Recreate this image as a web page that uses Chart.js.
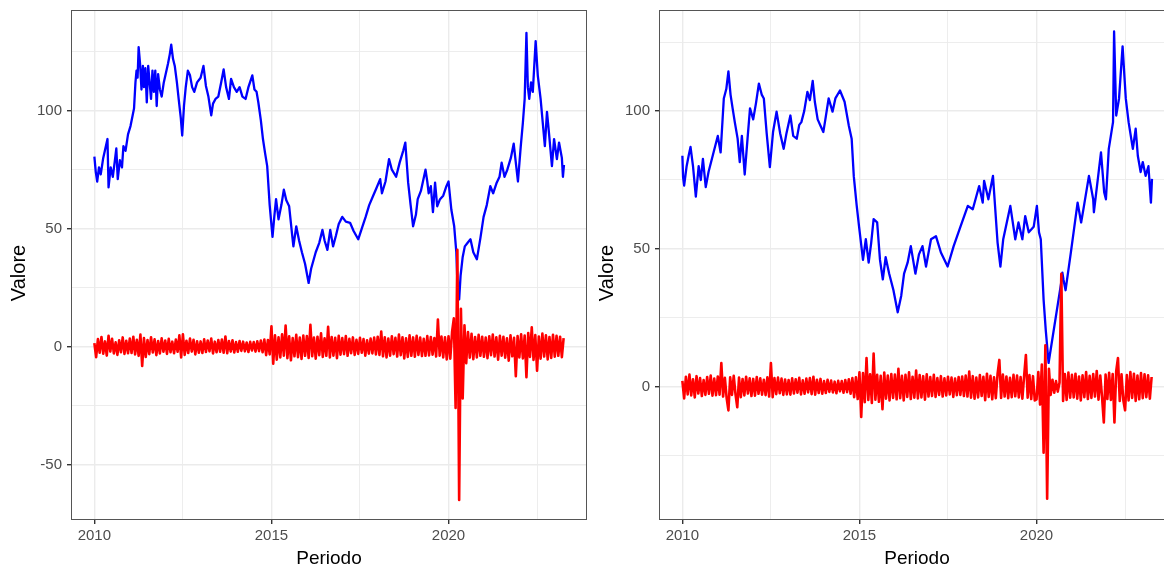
<!DOCTYPE html>
<html>
<head>
<meta charset="utf-8">
<script src="https://cdn.jsdelivr.net/npm/chart.js@4.4.1/dist/chart.umd.min.js"></script>
<style>
  html, body { margin: 0; padding: 0; background: #fff; overflow: hidden; width: 1164px; height: 571px; }
  canvas { position: absolute; top: 0; }
  #left { left: 0; }
  #right { left: 588px; }
</style>
</head>
<body>
<canvas id="left" width="590" height="571"></canvas>
<canvas id="right" width="590" height="571"></canvas>
<script>
// price level (blue) for each panel, as decimal year / value pairs
const priceYearsA = [
  2010.00, 2010.04, 2010.08, 2010.13, 2010.18, 2010.25, 2010.31, 2010.37, 2010.40, 2010.46,
  2010.52, 2010.58, 2010.62, 2010.66, 2010.72, 2010.78, 2010.82, 2010.88, 2010.95, 2011.02,
  2011.08, 2011.12, 2011.16, 2011.19, 2011.22, 2011.25, 2011.29, 2011.33, 2011.37, 2011.40,
  2011.44, 2011.48, 2011.52, 2011.56, 2011.60, 2011.64, 2011.68, 2011.72, 2011.76, 2011.80,
  2011.85, 2011.90, 2011.96, 2012.02, 2012.08, 2012.13, 2012.17, 2012.22, 2012.27, 2012.33,
  2012.38, 2012.44, 2012.48, 2012.53, 2012.58, 2012.64, 2012.70, 2012.76, 2012.82, 2012.90,
  2013.00, 2013.08, 2013.15, 2013.22, 2013.30, 2013.35, 2013.42, 2013.50, 2013.58, 2013.65,
  2013.72, 2013.80, 2013.86, 2013.94, 2014.02, 2014.10, 2014.18, 2014.27, 2014.35, 2014.46,
  2014.52, 2014.58, 2014.63, 2014.70, 2014.76, 2014.82, 2014.88, 2014.95, 2015.03, 2015.08,
  2015.13, 2015.20, 2015.28, 2015.35, 2015.42, 2015.50, 2015.58, 2015.62, 2015.70, 2015.78,
  2015.86, 2015.95, 2016.05, 2016.12, 2016.25, 2016.35, 2016.44, 2016.50, 2016.58, 2016.66,
  2016.74, 2016.82, 2016.90, 2017.00, 2017.10, 2017.22, 2017.32, 2017.45, 2017.55, 2017.66,
  2017.76, 2017.86, 2017.96, 2018.07, 2018.12, 2018.22, 2018.32, 2018.40, 2018.52, 2018.62,
  2018.72, 2018.78, 2018.86, 2018.93, 2019.00, 2019.08, 2019.13, 2019.22, 2019.35, 2019.40,
  2019.44, 2019.50, 2019.56, 2019.62, 2019.68, 2019.76, 2019.85, 2019.94, 2020.00, 2020.08,
  2020.16, 2020.22, 2020.26, 2020.30, 2020.34, 2020.40, 2020.46, 2020.54, 2020.62, 2020.70,
  2020.80, 2020.90, 2020.99, 2021.08, 2021.18, 2021.26, 2021.36, 2021.44, 2021.50, 2021.58,
  2021.66, 2021.76, 2021.84, 2021.90, 2021.96, 2022.04, 2022.10, 2022.15, 2022.20, 2022.24,
  2022.28, 2022.33, 2022.38, 2022.46, 2022.52, 2022.60, 2022.66, 2022.72, 2022.78, 2022.84,
  2022.92, 2022.98, 2023.06, 2023.12, 2023.20, 2023.23, 2023.26
];
const priceValuesA = [
  80.5, 74, 70, 76, 73, 80, 84, 88, 67.5, 76,
  72, 79, 84, 71, 79, 76, 85, 83, 90, 93.5,
  98, 101, 112, 117, 114, 127, 120, 109, 119, 110,
  118, 103.5, 119, 112, 105, 117, 108, 117, 102, 115.5,
  109, 106, 112, 116, 120, 124, 128, 122, 119, 112,
  105, 97, 89.5, 102, 110, 117, 115, 110, 108, 112,
  114, 119, 110.5, 106, 98, 103, 105, 106, 112, 117.5,
  110, 105, 113.5, 110, 108, 110, 106, 105, 110, 115,
  109, 108, 103.5, 96, 88, 82, 76.5, 60, 46.5, 55,
  62.5, 54, 60, 66.5, 62, 59.5, 48, 42.5, 51, 45,
  40, 35, 27, 33, 40, 44, 49.5, 45, 41, 49.5,
  42.5, 47, 52, 55, 53, 52.5, 49, 45.5, 50, 55,
  60, 63.5, 67, 71, 65, 70, 79.5, 75, 72, 78,
  83, 86.5, 69.5, 60, 51, 56, 62.5, 66, 75, 70,
  65, 68, 57, 69.5, 59.5, 62.5, 64, 68, 70, 58,
  51, 40, 23, 20, 30, 38, 42.5, 44, 45.5, 40,
  37, 46, 55, 60, 68, 65, 69.5, 72, 78, 72,
  75, 80, 86, 78, 70, 85, 95, 105, 133, 110,
  105, 112, 108, 129.5, 115, 105, 95, 85, 99.5, 90,
  76.5, 88, 79.5, 86.5, 80, 72, 77
];

const priceYearsB = [
  2010.00, 2010.02, 2010.05, 2010.12, 2010.18, 2010.23, 2010.30, 2010.38, 2010.46, 2010.52,
  2010.58, 2010.66, 2010.74, 2010.86, 2010.94, 2011.00, 2011.04, 2011.08, 2011.17, 2011.24,
  2011.30, 2011.36, 2011.42, 2011.48, 2011.56, 2011.62, 2011.68, 2011.76, 2011.84, 2011.91,
  2012.00, 2012.08, 2012.16, 2012.24, 2012.30, 2012.38, 2012.47, 2012.56, 2012.66, 2012.76,
  2012.86, 2012.94, 2013.05, 2013.13, 2013.23, 2013.30, 2013.36, 2013.44, 2013.53, 2013.60,
  2013.68, 2013.74, 2013.82, 2013.90, 2013.98, 2014.05, 2014.13, 2014.24, 2014.32, 2014.45,
  2014.58, 2014.70, 2014.78, 2014.84, 2014.92, 2014.99, 2015.10, 2015.18, 2015.26, 2015.33,
  2015.40, 2015.50, 2015.58, 2015.66, 2015.74, 2015.84, 2015.96, 2016.08, 2016.18, 2016.26,
  2016.36, 2016.45, 2016.58, 2016.68, 2016.78, 2016.88, 2017.02, 2017.16, 2017.30, 2017.49,
  2017.66, 2017.85, 2018.06, 2018.20, 2018.38, 2018.48, 2018.52, 2018.64, 2018.77, 2018.90,
  2018.98, 2019.06, 2019.26, 2019.40, 2019.49, 2019.60, 2019.68, 2019.78, 2019.92, 2020.01,
  2020.07, 2020.12, 2020.20, 2020.26, 2020.34, 2020.70, 2020.73, 2020.76, 2020.82, 2020.97,
  2021.16, 2021.26, 2021.34, 2021.48, 2021.60, 2021.62, 2021.82, 2021.91, 2021.96, 2022.04,
  2022.16, 2022.19, 2022.25, 2022.33, 2022.43, 2022.52, 2022.60, 2022.72, 2022.80, 2022.86,
  2022.94, 2023.00, 2023.08, 2023.16, 2023.23, 2023.26
];
const priceValuesB = [
  83.8, 76, 73, 80, 84, 87, 80, 69, 80, 75,
  82.7, 72.4, 78, 84, 88, 91, 88, 85, 104.6, 108,
  114.4, 106, 100.9, 96, 90, 81.5, 91, 77, 90, 101,
  97, 103, 110, 106, 104.6, 92, 79.7, 92.4, 99.8, 92,
  86.3, 92, 98.4, 91, 90, 95, 96, 100, 107, 104,
  111, 103.4, 97, 94.7, 92.4, 98, 104.6, 99.8, 104.6, 107.5,
  103.4, 94.7, 90, 76.4, 66, 58, 46, 53.5, 45, 52,
  60.8, 59.6, 46, 38.9, 47, 41, 35, 27, 33, 41,
  45, 51, 41, 48, 51, 43.6, 53.5, 54.6, 48.7, 43.6,
  51, 58, 65.6, 64.4, 72.8, 66.8, 74.7, 68, 76.5, 52.3,
  43.6, 53.5, 65.6, 53.5, 59.6, 53.5, 61.9, 56, 58, 65.6,
  56, 53.5, 31.5, 20.6, 8.6, 38, 41.4, 38.9, 35, 48.7,
  66.8, 59.6, 65.6, 76.5, 68, 63.3, 85, 70.6, 68, 86.3,
  96, 128.9, 98.4, 104.6, 123.5, 104.6, 96, 86.3, 93.6, 83.8,
  77.9, 81.5, 76.5, 80, 66.8, 75.4
];

// period-on-period change (red), one reading every 0.05 year from 2010.00
const changeStart = 2010;
const changeStep = 0.05;
const changesA = [
  1.5, -4.5, 3.2, -2.6, 4.1, -3.0, 2.2, -3.8, 4.6, -2.1, 3.3, -2.9, 1.8, -3.5, 2.7, -2.4, 3.9, -3.1, 2.5, -2.8,   // 2010
  3.4, -2.7, 4.2, -3.3, 2.9, -3.9, 5.1, -8.2, 3.6, -4.4, 2.8, -3.2, 4.0, -2.5, 3.1, -3.6, 2.4, -2.9, 3.5, -2.2,   // 2011
  2.6, -3.1, 3.3, -2.4, 2.1, -2.8, 3.0, -2.2, 4.8, -4.6, 5.2, -3.5, 2.5, -2.7, 3.4, -2.1, 2.9, -3.3, 2.3, -2.6,   // 2012
  2.2, -2.7, 3.1, -2.3, 2.6, -2.0, 3.4, -2.9, 2.1, -2.4, 2.8, -2.2, 3.0, -2.6, 4.3, -2.8, 2.4, -2.1, 2.7, -2.5,   // 2013
  1.9, -2.2, 2.4, -1.8, 2.1, -2.0, 1.7, -2.3, 2.0, -1.6, 1.9, -2.1, 2.3, -1.9, 2.6, -2.4, 3.0, -3.6, 2.8, -3.3,   // 2014
  8.6, -7.2, 4.8, -5.5, 3.9, -4.6, 5.2, -3.8, 8.9, -4.9, 4.4, -5.8, 3.6, -4.1, 5.0, -4.5, 3.8, -5.2, 4.7, -3.9,   // 2015
  4.5, -4.8, 9.2, -4.1, 3.8, -5.1, 4.2, -3.6, 5.6, -4.4, 3.5, -3.9, 8.4, -4.6, 4.1, -3.8, 3.7, -4.9, 4.6, -3.4,   // 2016
  3.6, -3.2, 4.5, -3.9, 3.3, -2.8, 3.9, -3.5, 2.9, -3.1, 3.7, -2.6, 3.2, -3.8, 2.7, -3.0, 3.4, -2.9, 3.8, -3.3,   // 2017
  4.2, -3.5, 6.4, -4.1, 3.9, -4.6, 3.4, -3.8, 4.4, -3.2, 3.7, -4.2, 5.1, -3.6, 4.0, -5.0, 3.5, -4.4, 4.8, -3.9,   // 2018
  3.9, -4.3, 4.6, -3.5, 3.8, -4.0, 3.3, -3.9, 4.5, -3.7, 4.1, -3.4, 3.6, -4.2, 11.5, -3.8, 4.3, -4.6, 3.9, -5.4,  // 2019
  4.4, -5.1, 6.2, 12.0, -26.0, 41.0, -65.0, 16.0, -22.0, 9.0, -7.0, 6.2, -4.7, 5.4, -5.3, 4.1, -4.6, 5.0, -3.9, 4.2, // 2020
  -4.3, 3.8, -4.9, 4.4, -3.6, 5.1, -4.2, 3.9, -5.5, 4.6, -3.8, 4.2, -4.7, 3.5, -6.0, 4.8, -4.1, 3.7, -12.5, 4.5, // 2021
  -4.6, 5.2, -5.0, 4.7, -13.0, 5.8, -4.4, 8.2, -5.6, 4.9, -10.2, 4.3, -5.1, 5.5, -4.2, 4.8, -5.4, 4.1, -4.8, 5.0, // 2022
  -4.3, 4.6, -3.9, 4.2, -4.5, 3.6                                                                              // 2023
];
const changesB = [
  2.1, -4.3, 3.6, -2.8, 4.4, -3.2, 2.7, -3.9, 3.8, -2.5, 3.1, -3.4, 2.4, -3.0, 3.5, -2.6, 4.0, -3.3, 2.9, -3.1,   // 2010
  3.7, -2.9, 8.6, -3.6, 3.2, -4.1, -8.6, 3.4, -3.0, 3.9, -2.7, -7.5, 3.3, -3.8, 2.8, -3.2, 3.6, -2.5, 3.0, -3.4,   // 2011
  2.8, -3.3, 3.5, -2.6, 3.0, -2.9, 2.5, -3.1, 3.4, -3.6, 8.6, -3.8, 3.1, -2.7, 3.3, -2.4, 2.9, -3.0, 2.6, -2.8,   // 2012
  2.4, -2.9, 3.0, -2.5, 2.7, -2.2, 3.2, -2.8, 2.3, -2.6, 2.9, -2.1, 3.1, -2.7, 3.6, -2.9, 2.5, -2.3, 2.8, -2.6,   // 2013
  2.0, -2.3, 2.5, -1.9, 2.2, -2.1, 1.8, -2.4, 2.1, -1.7, 2.0, -2.2, 2.4, -2.0, 2.7, -2.6, 3.1, -3.8, 3.4, -4.5,   // 2014
  5.2, -11.0, 4.9, -5.6, 10.4, -4.8, 4.5, -5.9, 12.0, -4.7, 4.3, -5.5, 3.9, -8.2, 5.1, -4.4, 4.0, -5.0, 4.6, -4.1, // 2015
  4.4, -4.6, 6.5, -4.2, 3.9, -5.0, 4.3, -3.7, 5.2, -4.5, 3.6, -4.0, 5.8, -4.3, 4.2, -3.9, 3.8, -4.7, 4.5, -3.6,   // 2016
  3.5, -3.4, 4.3, -3.7, 3.1, -3.0, 3.8, -3.6, 3.0, -3.2, 3.6, -2.8, 3.3, -3.7, 2.9, -3.1, 3.5, -3.0, 3.7, -3.4,   // 2017
  4.0, -3.6, 5.5, -4.0, 3.8, -4.4, 3.3, -3.9, 4.2, -3.4, 3.6, -4.9, 4.7, -3.7, 3.9, -4.6, 3.4, -4.2, 4.6, 9.7,    // 2018
  -4.1, 4.4, -3.6, 3.7, -4.2, 3.2, -3.8, 4.3, -3.5, 4.0, -3.9, 3.5, -4.4, 3.8, 11.5, -4.0, 4.2, -4.5, 3.8, -5.0,  // 2019
  -4.6, 5.3, -6.5, 8.0, -24.0, 15.0, -40.7, 6.5, -3.0, 2.5, -2.2, 2.0, -1.8, 1.5, 41.0, -5.2, 4.6, -4.8, 5.1, -4.0, // 2020
  4.3, -3.9, 4.7, -4.4, 3.7, -5.0, 4.1, -3.8, 5.3, -4.5, 3.9, -4.1, 4.6, -3.6, 5.7, -4.7, 4.0, -3.8, -13.0, 4.4,  // 2021
  -4.5, 5.0, -4.8, 4.6, -13.0, 5.6, 10.4, -5.2, 4.5, -4.9, -8.6, 4.2, -5.0, 5.3, -4.1, 4.7, -5.2, 4.0, -4.6, 4.9, // 2022
  -4.2, 4.5, -3.8, 4.1, -4.4, 3.5                                                                               // 2023
];

// axis breaks: labelled ones at multiples of 5 (x) and 50 (y), the rest are minor grid lines
const xBreaks = [2010, 2012.5, 2015, 2017.5, 2020, 2022.5];
const yBreaksA = [-50, -25, 0, 25, 50, 75, 100, 125];
const yBreaksB = [-25, 0, 25, 50, 75, 100, 125];
const xRange = [2009.34, 2023.91];
const yRangeA = [-73.5, 142.7];
const yRangeB = [-48.4, 136.7];
const yTitle = "Valore";
const xTitle = "Periodo";

const FONT = "'Liberation Sans', Arial, Helvetica, sans-serif";

const toPoints = (xs, ys) => xs.map((x, i) => ({ x, y: ys[i] }));
const changePoints = (vals) => vals.map((v, i) => ({ x: +(changeStart + i * changeStep).toFixed(2), y: v }));

// ggplot-like panel outline on all four sides
const panelBorder = {
  id: "panelBorder",
  afterDraw(chart) {
    const { ctx, chartArea: a } = chart;
    ctx.save();
    ctx.strokeStyle = "#555";
    ctx.lineWidth = 1;
    ctx.strokeRect(a.left + 0.5, a.top + 0.5, a.right - a.left - 1, a.bottom - a.top - 1);
    ctx.restore();
  },
};

// rotated y-axis title, sitting a little below the panel's middle
const sideTitle = {
  id: "sideTitle",
  afterDraw(chart, args, opts) {
    const { ctx, chartArea: a } = chart;
    ctx.save();
    ctx.translate(19, (a.top + a.bottom) / 2 + opts.shift);
    ctx.rotate(-Math.PI / 2);
    ctx.font = `20px ${FONT}`;
    ctx.fillStyle = "#000";
    ctx.textAlign = "center";
    ctx.textBaseline = "middle";
    ctx.fillText(opts.text, 0, 0);
    ctx.restore();
  },
};

function isMajor(v, every) {
  return Math.abs(v / every - Math.round(v / every)) < 1e-6;
}

// keep the panel edge exactly where the layout padding puts it
function noLabelPadding(scale) {
  scale.paddingTop = 0;
  scale.paddingBottom = 0;
  scale.paddingLeft = 0;
  scale.paddingRight = 0;
}

function makeChart(id, prices, changes, yBreaks, yRange) {
  const ctx = document.getElementById(id).getContext("2d");
  return new Chart(ctx, {
    type: "line",
    data: {
      datasets: [
        {
          label: "Variazione",
          data: changes,
          borderColor: "#ff0000",
          borderWidth: 2.6,
          borderJoinStyle: "round",
          pointRadius: 0,
          tension: 0,
        },
        {
          label: "Prezzo",
          data: prices,
          borderColor: "#0000ff",
          borderWidth: 2.3,
          borderJoinStyle: "round",
          pointRadius: 0,
          tension: 0,
        },
      ],
    },
    options: {
      responsive: false,
      animation: false,
      devicePixelRatio: 1,
      layout: { padding: { left: 0, right: 3, top: 10, bottom: 0 } },
      plugins: {
        legend: { display: false },
        tooltip: { enabled: false },
        sideTitle: { text: yTitle, shift: 8 },
      },
      scales: {
        x: {
          type: "linear",
          min: xRange[0],
          max: xRange[1],
          afterBuildTicks: (scale) => {
            scale.ticks = xBreaks.map((v) => ({ value: v }));
          },
          afterFit: (scale) => {
            scale.height = 51;
            noLabelPadding(scale);
          },
          border: { display: false },
          grid: {
            color: "#ebebeb",
            lineWidth: (c) => (isMajor(c.tick.value, 5) ? 1.4 : 0.9),
            tickColor: (c) => (isMajor(c.tick.value, 5) ? "#333" : "rgba(0,0,0,0)"),
            tickLength: 4,
          },
          ticks: {
            autoSkip: false,
            maxRotation: 0,
            padding: 3,
            color: "#4d4d4d",
            font: { family: FONT, size: 15 },
            callback: (v) => (isMajor(v, 5) ? String(v) : ""),
          },
          title: {
            display: true,
            text: xTitle,
            color: "#000",
            font: { family: FONT, size: 19 },
            padding: { top: 0, bottom: 1 },
          },
        },
        y: {
          type: "linear",
          min: yRange[0],
          max: yRange[1],
          afterBuildTicks: (scale) => {
            scale.ticks = yBreaks.map((v) => ({ value: v }));
          },
          afterFit: (scale) => {
            scale.width = 71;
            noLabelPadding(scale);
          },
          border: { display: false },
          grid: {
            color: "#ebebeb",
            lineWidth: (c) => (isMajor(c.tick.value, 50) ? 1.4 : 0.9),
            tickColor: (c) => (isMajor(c.tick.value, 50) ? "#333" : "rgba(0,0,0,0)"),
            tickLength: 4,
          },
          ticks: {
            autoSkip: false,
            padding: 5,
            color: "#4d4d4d",
            font: { family: FONT, size: 15 },
            callback: (v) => (isMajor(v, 50) ? String(v) : ""),
          },
        },
      },
    },
    plugins: [panelBorder, sideTitle],
  });
}

makeChart("left", toPoints(priceYearsA, priceValuesA), changePoints(changesA), yBreaksA, yRangeA);
makeChart("right", toPoints(priceYearsB, priceValuesB), changePoints(changesB), yBreaksB, yRangeB);
</script>
</body>
</html>
